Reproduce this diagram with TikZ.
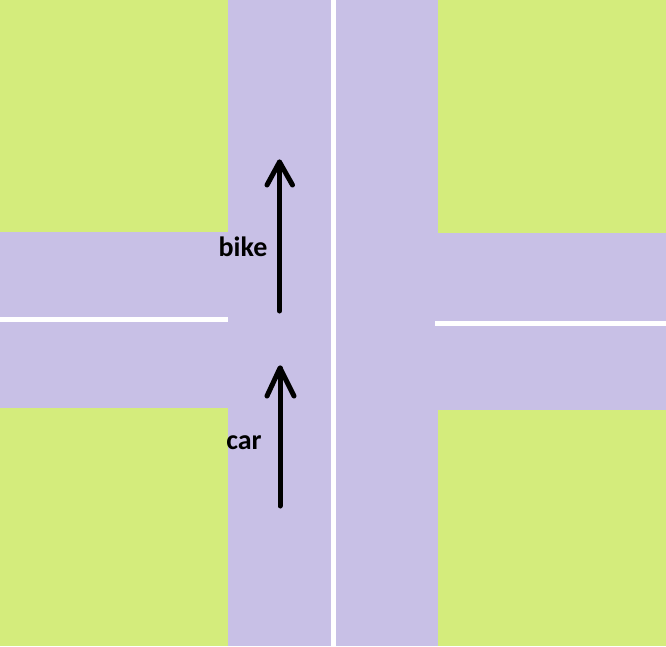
\documentclass[tikz,border=0pt]{standalone}
\usepackage{fontspec}
\setmainfont{Carlito}
\usetikzlibrary{calc}
\definecolor{road}{RGB}{200,192,230}
\definecolor{grass}{RGB}{212,236,124}
\begin{document}
\begin{tikzpicture}[x=1pt,y=-1pt,
  block/.style={fill=grass,draw=none},
  lane/.style={white,line width=5pt},
  arr/.style={black,line width=5pt,line cap=round,line join=round},
  lbl/.style={inner sep=0pt,anchor=base,font=\fontsize{28}{30}\selectfont\bfseries}]
\useasboundingbox (0,0) rectangle (666,646);
\fill[road] (0,0) rectangle (666,646);
\fill[block] (0,0) rectangle (228,232);
\fill[block] (0,408) rectangle (228,646);
\fill[block] (438,0) rectangle (666,233);
\fill[block] (438,410) rectangle (666,646);
\draw[lane] (333.5,0) -- (333.5,646);
\draw[lane] (0,319.5) -- (228,319.5);
\draw[lane] (435,323.5) -- (666,323.5);
% bike arrow
\coordinate (btail) at (279.5,311);
\coordinate (btip) at (279.5,162);
\draw[arr] (btail) -- (btip);
\draw[arr] ($(btip)+(-12.5,23)$) -- (btip) -- ($(btip)+(13,23)$);
% car arrow
\coordinate (ctail) at (280,506);
\coordinate (ctip) at (280,368);
\draw[arr] (ctail) -- (ctip);
\draw[arr] ($(ctip)+(-13,28)$) -- (ctip) -- ($(ctip)+(14,28)$);
\node[lbl] (bike) at (243,256.5) {bike};
\node[lbl] (car) at (244,449) {car};
\end{tikzpicture}
\end{document}
